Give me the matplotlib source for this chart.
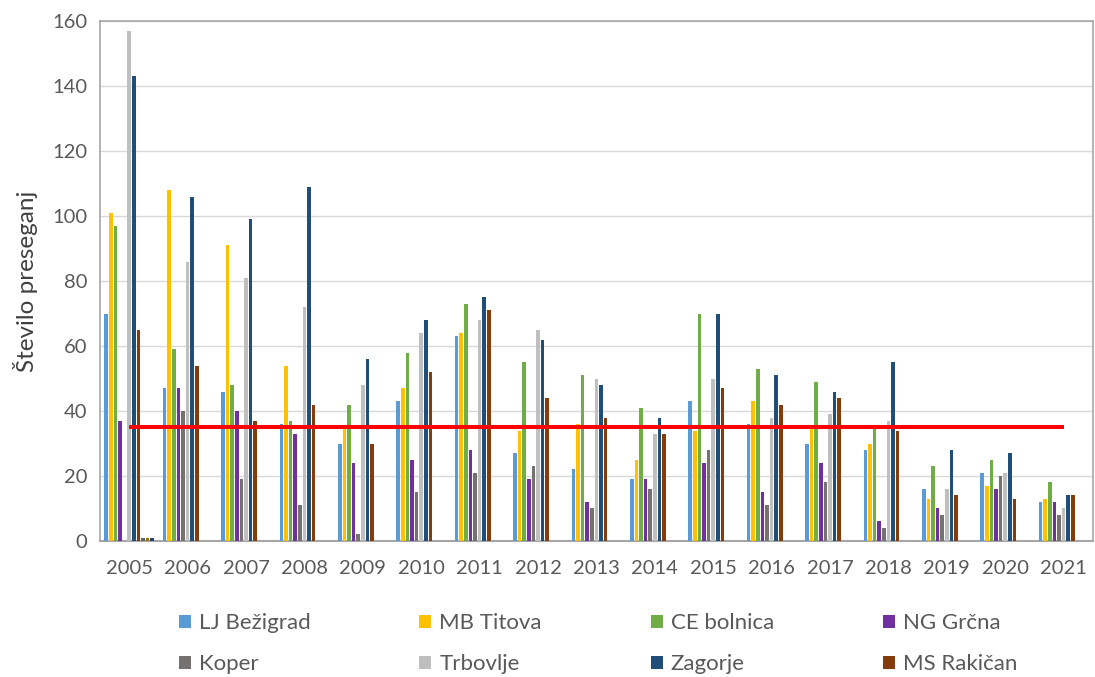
import numpy as np
import matplotlib
matplotlib.use("Agg")
import matplotlib.pyplot as plt

plt.rcParams['font.family'] = ['Lato', 'DejaVu Sans']

years = ["2005", "2006", "2007", "2008", "2009", "2010", "2011", "2012", "2013",
         "2014", "2015", "2016", "2017", "2018", "2019", "2020", "2021"]

lj_bezigrad = [70, 47, 46, 36, 30, 43, 63, 27, 22, 19, 43, 36, 30, 28, 16, 21, 12]
mb_titova = [101, 108, 91, 54, 35, 47, 64, 34, 36, 25, 34, 43, 35, 30, 13, 17, 13]
ce_bolnica = [97, 59, 48, 37, 42, 58, 73, 55, 51, 41, 70, 53, 49, 35, 23, 25, 18]
ng_grcna = [37, 47, 40, 33, 24, 25, 28, 19, 12, 19, 24, 15, 24, 6, 10, 16, 12]
koper = [0, 40, 19, 11, 2, 15, 21, 23, 10, 16, 28, 11, 18, 4, 8, 20, 8]
trbovlje = [157, 86, 81, 72, 48, 64, 68, 65, 50, 33, 50, 38, 39, 37, 16, 21, 10]
zagorje = [143, 106, 99, 109, 56, 68, 75, 62, 48, 38, 70, 51, 46, 55, 28, 27, 14]
ms_rakican = [65, 54, 37, 42, 30, 52, 71, 44, 38, 33, 47, 42, 44, 34, 14, 13, 14]
# three extra series without legend entries, only present in 2005
extra_a = [1] + [0] * 16
extra_b = [1] + [0] * 16
extra_c = [1] + [0] * 16

limit_value = 35

series = [
    ("LJ Bežigrad", lj_bezigrad, "#5B9BD5"),
    ("MB Titova", mb_titova, "#FFC000"),
    ("CE bolnica", ce_bolnica, "#70AD47"),
    ("NG Grčna", ng_grcna, "#7030A0"),
    ("Koper", koper, "#767171"),
    ("Trbovlje", trbovlje, "#BFBFBF"),
    ("Zagorje", zagorje, "#1F4E79"),
    ("MS Rakičan", ms_rakican, "#843C0C"),
    (None, extra_a, "#636363"),
    (None, extra_b, "#997300"),
    (None, extra_c, "#264478"),
]

fig = plt.figure(figsize=(10.95, 6.77), dpi=100)
ax = fig.add_axes([0.0913, 0.2009, 0.9067, 0.768])

x = np.arange(len(years))
n = len(series)
step = 0.0788
handles = []
for i, (name, vals, col) in enumerate(series):
    b = ax.bar(x + (i - (n - 1) / 2) * step, vals, width=step * 0.8,
               color=col, zorder=3)
    if name is not None:
        handles.append((b, name))

ax.plot([x[0], x[-1]], [limit_value, limit_value], color="#FF0000", lw=2.9,
        solid_capstyle="butt", zorder=4)

ax.set_xlim(-0.5, len(years) - 0.5)
ax.set_ylim(0, 160)
ax.set_yticks(range(0, 161, 20))
ax.set_xticks(x)
ax.set_xticklabels(years)
ax.yaxis.grid(True, color="#D9D9D9", lw=1.0, zorder=0)
ax.tick_params(length=0, labelsize=14.5, colors="#595959", pad=9)
ax.tick_params(axis="x", pad=14)
for s in ["left", "top", "right"]:
    ax.spines[s].set_color("#A6A6A6")
    ax.spines[s].set_linewidth(1.2)
ax.spines["bottom"].set_color("#A6A6A6")
ax.spines["bottom"].set_linewidth(1.5)
ax.set_ylabel("Število preseganj", fontsize=17.5, color="#404040", labelpad=10)

# legend fills column by column, so interleave to get row order
order = [0, 4, 1, 5, 2, 6, 3, 7]
fig.legend([handles[k][0] for k in order], [handles[k][1] for k in order],
           loc="center", bbox_to_anchor=(0.546, 0.049), ncol=4, frameon=False,
           fontsize=16, labelcolor="#595959", handlelength=0.55, handleheight=0.55,
           handletextpad=0.35, columnspacing=4.9, labelspacing=0.95)

fig.savefig("out.png", dpi=100)
